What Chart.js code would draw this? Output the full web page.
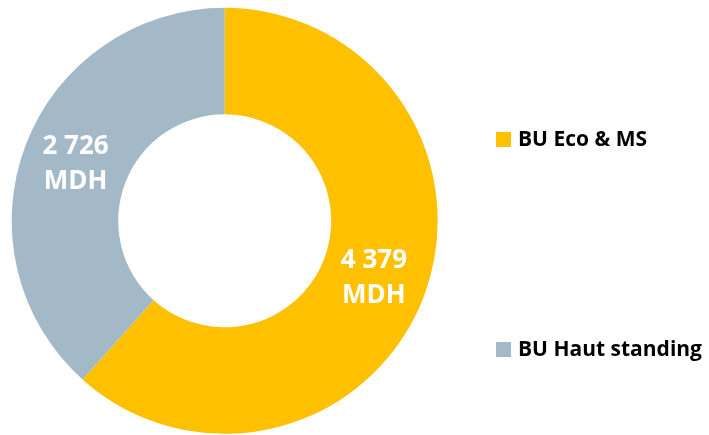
<!DOCTYPE html>
<html>
<head>
<meta charset="utf-8">
<script src="https://cdn.jsdelivr.net/npm/chart.js@4"></script>
<style>
  html, body { margin: 0; padding: 0; background: #ffffff; }
  #wrap { width: 709px; height: 435px; position: relative; }
</style>
</head>
<body>
<div id="wrap"><canvas id="c" width="709" height="435"></canvas></div>
<script>
const categories = ["BU Eco & MS", "BU Haut standing"];
const values = [4379, 2726];
const valueLabels = ["4 379", "2 726"];
const unitLabel = "MDH";
const colors = ["#FFC000", "#A3B9C7"];

const FONT = "'Open Sans', sans-serif";

const sliceLabels = {
  id: "sliceLabels",
  afterDatasetsDraw(chart) {
    const ctx = chart.ctx;
    const meta = chart.getDatasetMeta(0);
    ctx.save();
    ctx.fillStyle = "#ffffff";
    ctx.font = "bold 26px " + FONT;
    ctx.textAlign = "center";
    ctx.textBaseline = "middle";
    meta.data.forEach((arc, i) => {
      const p = arc.tooltipPosition();
      ctx.fillText(valueLabels[i], p.x, p.y - 17);
      ctx.fillText(unitLabel, p.x, p.y + 18);
    });
    ctx.restore();
  }
};

const sideLegend = {
  id: "sideLegend",
  afterDraw(chart) {
    const ctx = chart.ctx;
    const items = chart.data.labels;
    const ys = [139.5, 349.5];
    ctx.save();
    ctx.font = "bold 21px " + FONT;
    ctx.textBaseline = "middle";
    ctx.textAlign = "left";
    items.forEach((lab, i) => {
      ctx.fillStyle = chart.data.datasets[0].backgroundColor[i];
      ctx.fillRect(496, ys[i] - 7.5, 15, 15);
      ctx.fillStyle = "#000000";
      ctx.fillText(lab, 518, ys[i] + 1);
    });
    ctx.restore();
  }
};

new Chart(document.getElementById("c"), {
  type: "doughnut",
  data: {
    labels: categories,
    datasets: [{
      data: values,
      backgroundColor: colors,
      borderWidth: 0,
      hoverOffset: 0
    }]
  },
  options: {
    responsive: false,
    animation: false,
    cutout: "50%",
    rotation: 0,
    layout: { padding: { left: 11.7, top: 7.7, right: 271.3, bottom: 1 } },
    plugins: {
      legend: { display: false },
      tooltip: { enabled: false }
    }
  },
  plugins: [sliceLabels, sideLegend]
});
</script>
</body>
</html>
